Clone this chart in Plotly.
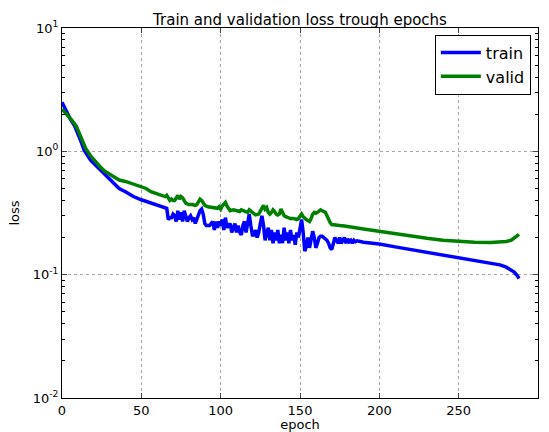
import plotly.graph_objects as go

train_epochs = [0, 2, 5, 8, 10, 12, 14, 16, 18, 20, 23, 26, 30, 33, 36, 40, 45, 50, 55, 60, 64, 66] + list(range(67, 187)) + [190, 200, 210, 220, 230, 240, 250, 260, 270, 276, 280, 283, 285, 287, 288]
train_loss = [2.5, 2.2, 1.85, 1.6, 1.4, 1.2, 1.02, 0.92, 0.85, 0.8, 0.73, 0.67, 0.6, 0.55, 0.5, 0.47, 0.43, 0.405, 0.385, 0.365, 0.35, 0.345,
    # 67-186
    0.28, 0.29, 0.29, 0.31, 0.30, 0.27, 0.33, 0.28, 0.32, 0.27, 0.33, 0.30, 0.27, 0.29, 0.30, 0.28, 0.29, 0.26, 0.28, 0.30,
    0.33, 0.34, 0.31, 0.26, 0.25, 0.25, 0.25, 0.26, 0.27, 0.23, 0.27, 0.24, 0.27, 0.25, 0.28, 0.23, 0.29, 0.24, 0.25, 0.26,
    0.22, 0.24, 0.26, 0.22, 0.25, 0.22, 0.21, 0.25, 0.27, 0.22, 0.26, 0.31, 0.25, 0.21, 0.21, 0.23, 0.20, 0.22, 0.26, 0.30,
    0.25, 0.19, 0.22, 0.24, 0.19, 0.23, 0.18, 0.22, 0.19, 0.23, 0.18, 0.21, 0.18, 0.24, 0.19, 0.22, 0.18, 0.23, 0.19, 0.21,
    0.175, 0.22, 0.20, 0.24, 0.28, 0.22, 0.155, 0.17, 0.20, 0.165, 0.19, 0.225, 0.20, 0.165, 0.18, 0.20, 0.205, 0.205, 0.20, 0.195,
    0.19, 0.18, 0.165, 0.16, 0.175, 0.20, 0.19, 0.18, 0.20, 0.18, 0.19, 0.20, 0.18, 0.195, 0.185, 0.19, 0.18, 0.19, 0.185, 0.188,
    0.183, 0.177, 0.168, 0.16, 0.152, 0.145, 0.138, 0.131, 0.124, 0.12, 0.115, 0.11, 0.105, 0.098, 0.093]

valid_epochs = [0, 3, 6, 9, 12, 15, 18, 21, 24, 27, 30, 33, 36, 40, 45, 50, 53, 56, 60, 63, 65, 66, 67, 68, 69, 70, 71, 72, 73, 74, 75, 76, 77, 78, 79, 80, 82, 84, 85, 86, 87, 88, 89, 90, 92, 95, 97, 98, 99, 100, 101, 102, 103, 104, 105, 106, 108, 110, 112, 113, 115, 117, 118, 120, 122, 124, 125, 126, 127, 128, 129, 130, 131, 132, 133, 134, 135, 136, 137, 138, 139, 140, 141, 142, 144, 146, 148, 149, 150, 151, 152, 153, 154, 155, 156, 157, 158, 159, 160, 161, 162, 163, 164, 165, 166, 167, 168, 169, 170, 172, 175, 178, 180, 185, 190, 200, 210, 220, 230, 240, 250, 260, 270, 276, 280, 283, 285, 287, 288]
valid_loss = [2.2, 2.0, 1.8, 1.6, 1.3, 1.05, 0.92, 0.82, 0.75, 0.69, 0.65, 0.61, 0.585, 0.57, 0.545, 0.52, 0.5, 0.47, 0.45, 0.44, 0.43, 0.44, 0.42, 0.40, 0.41, 0.40, 0.40, 0.42, 0.44, 0.41, 0.43, 0.42, 0.40, 0.38, 0.375, 0.37, 0.37, 0.365, 0.37, 0.39, 0.41, 0.40, 0.38, 0.365, 0.355, 0.35, 0.35, 0.345, 0.355, 0.34, 0.36, 0.37, 0.385, 0.36, 0.34, 0.33, 0.335, 0.33, 0.325, 0.335, 0.33, 0.32, 0.335, 0.32, 0.305, 0.31, 0.33, 0.35, 0.365, 0.34, 0.35, 0.32, 0.31, 0.32, 0.335, 0.325, 0.31, 0.305, 0.31, 0.34, 0.32, 0.30, 0.295, 0.29, 0.285, 0.285, 0.28, 0.285, 0.30, 0.31, 0.295, 0.285, 0.28, 0.275, 0.27, 0.285, 0.31, 0.32, 0.315, 0.32, 0.33, 0.335, 0.33, 0.325, 0.32, 0.30, 0.28, 0.265, 0.255, 0.252, 0.25, 0.248, 0.245, 0.24, 0.235, 0.224, 0.214, 0.205, 0.197, 0.19, 0.186, 0.183, 0.182, 0.183, 0.186, 0.19, 0.197, 0.207, 0.213]

x_ticks = [0, 50, 100, 150, 200, 250, 300]
y_ticks = [0.01, 0.1, 1, 10]
y_tick_text = ["10<sup>-2</sup>", "10<sup>-1</sup>", "10<sup>0</sup>", "10<sup>1</sup>"]
y_minor = [m * 10 ** e for e in (-2, -1, 0) for m in range(2, 10)]

fig = go.Figure()
fig.add_trace(go.Scatter(x=train_epochs, y=train_loss, mode="lines", name="train",
                         line=dict(color="#0000ff", width=3.5)))
fig.add_trace(go.Scatter(x=valid_epochs, y=valid_loss, mode="lines", name="valid",
                         line=dict(color="#008000", width=3.5)))

font = "DejaVu Sans, sans-serif"
fig.update_layout(
    width=549, height=432,
    margin=dict(l=62, r=11, t=28, b=34, autoexpand=False),
    paper_bgcolor="white", plot_bgcolor="white",
    font=dict(family=font, size=13, color="black"),
    title=dict(text="Train and validation loss trough epochs", x=0.5, xref="paper", xanchor="center",
               y=1, yref="paper", yanchor="bottom", pad=dict(b=3), font=dict(size=15)),
    legend=dict(x=0.985, y=0.982, xanchor="right", yanchor="top", bgcolor="white",
                bordercolor="black", borderwidth=1, font=dict(size=16),
                itemwidth=40, tracegroupgap=4),
    showlegend=True,
)
fig.update_xaxes(range=[0, 300], tickvals=x_ticks, ticks="inside", ticklen=5, automargin=False,
                 showline=True, linecolor="black", linewidth=1, mirror="ticks",
                 showgrid=True, gridcolor="#a8a8a8", griddash="dot", gridwidth=1,
                 zeroline=False, title=dict(text="epoch", standoff=5, font=dict(size=13)),
                 tickfont=dict(size=13))
fig.update_yaxes(type="log", range=[-2, 1], tickvals=y_ticks, ticktext=y_tick_text, automargin=False,
                 ticks="inside", ticklen=5,
                 minor=dict(tickvals=y_minor, ticks="inside", ticklen=3, tickcolor="black", showgrid=False),
                 showline=True, linecolor="black", linewidth=1, mirror="ticks",
                 showgrid=True, gridcolor="#a8a8a8", griddash="dot", gridwidth=1,
                 zeroline=False, title=dict(text="loss", standoff=10, font=dict(size=13)),
                 tickfont=dict(size=13))

fig.write_html("out.html")
